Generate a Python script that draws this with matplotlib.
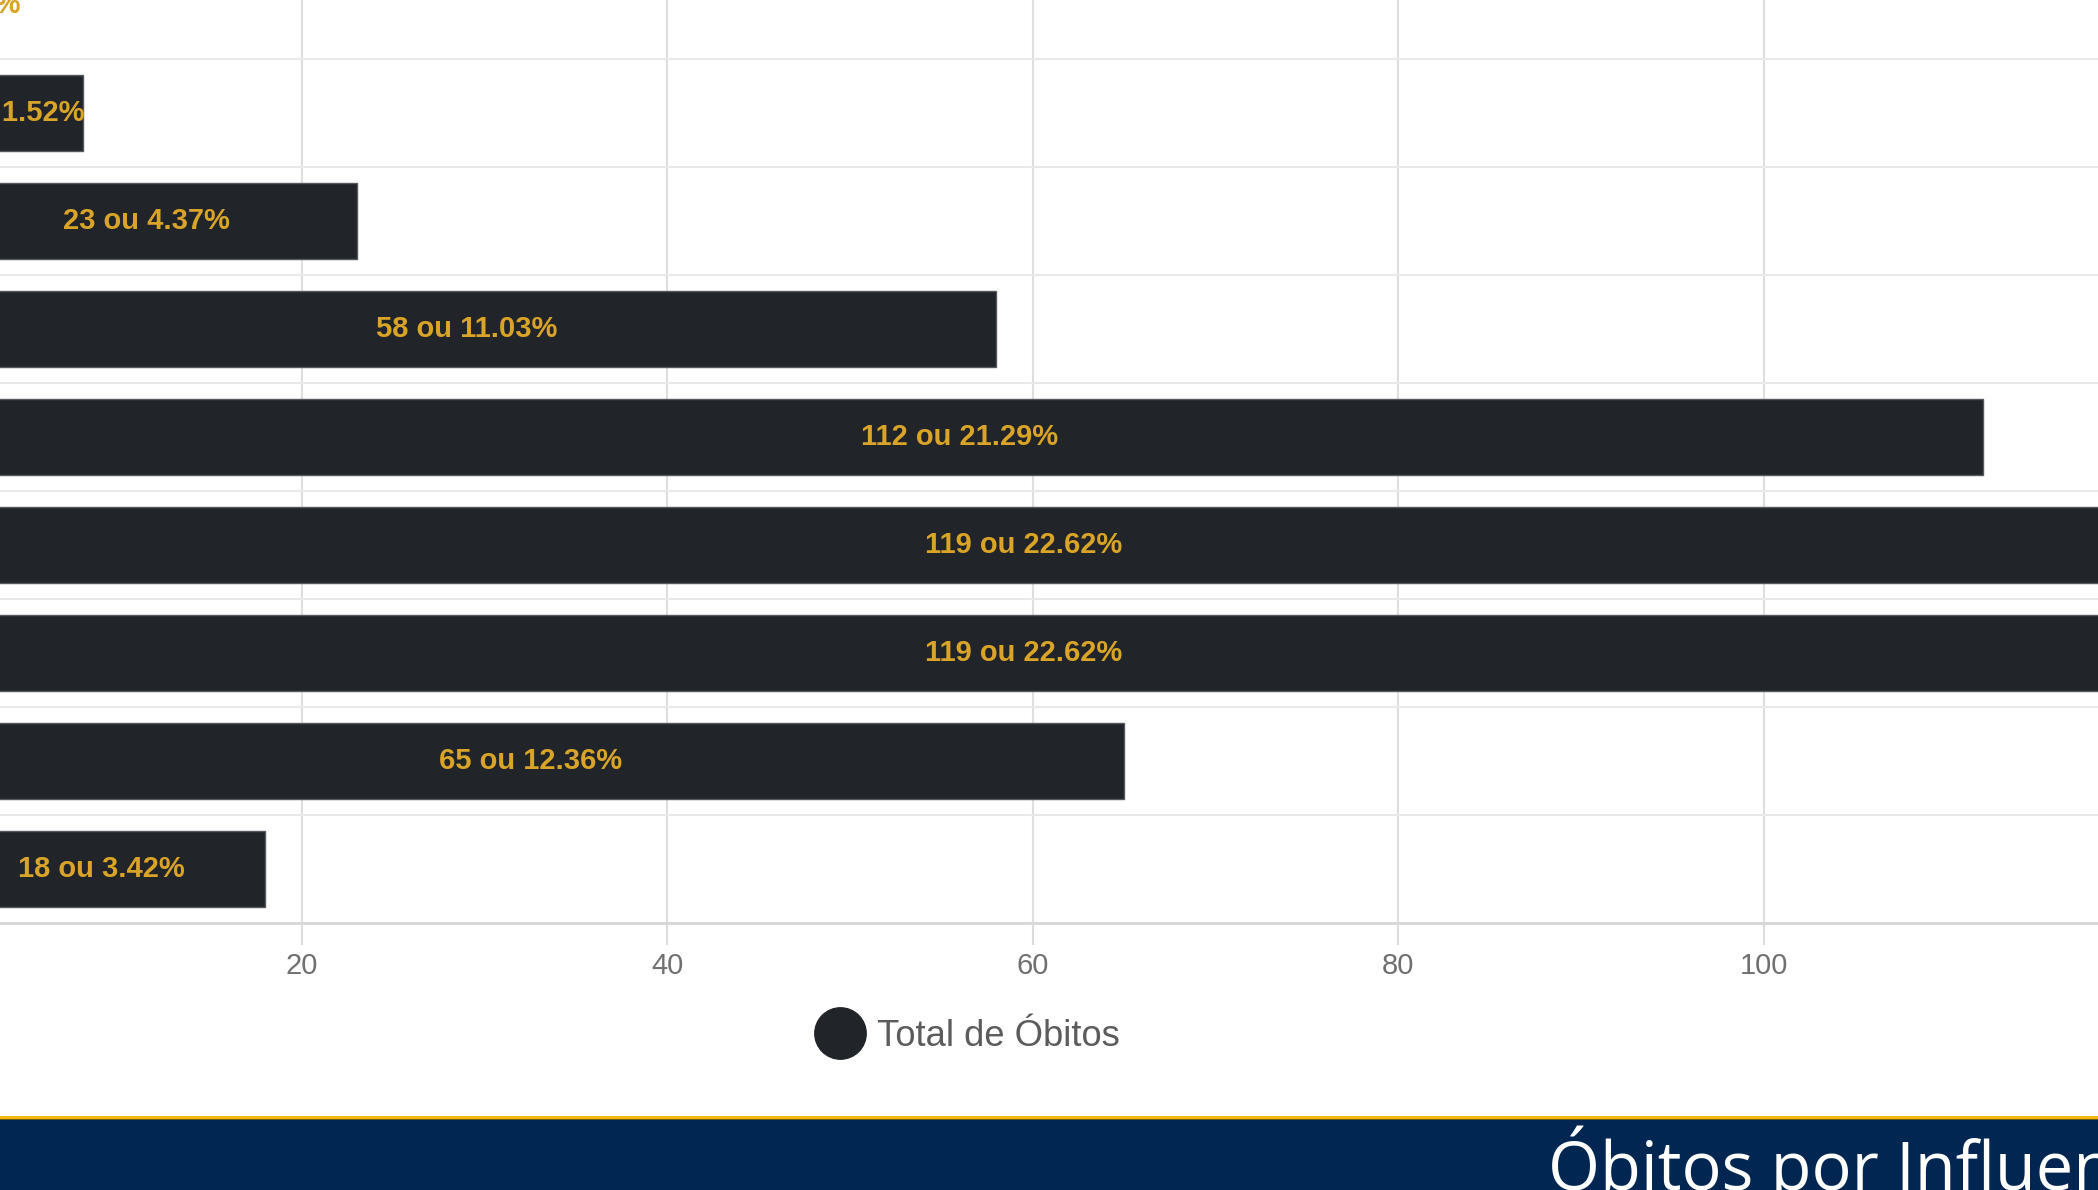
import matplotlib.pyplot as plt
from matplotlib.lines import Line2D
from matplotlib.patches import Rectangle
import numpy as np

# valores (de cima para baixo)
totais = [1, 8, 23, 58, 112, 119, 119, 65, 18]
percentuais = [0.19, 1.52, 4.37, 11.03, 21.29, 22.62, 22.62, 12.36, 3.42]
ticks_x = [0, 20, 40, 60, 80, 100, 120]
serie = 'Total de Óbitos'
titulo = 'Óbitos por Influenza'

cor_barra = '#212428'
cor_rotulo = '#d9a427'
azul = '#022652'
dourado = '#f3b80c'

W, H = 2098, 1190
fig = plt.figure(figsize=(W / 100, H / 100), dpi=100)

# escala: 18.27 px por unidade, zero fica fora da imagem (recorte)
px = 18.27
x0 = -63.4
ax = fig.add_axes([x0 / W, (H - 923) / H, 125 * px / W, 972 / H])

pos = np.arange(len(totais))
ax.barh(pos, totais, height=0.70, color=cor_barra, edgecolor='#55585d',
        linewidth=1.0, zorder=3)

for i, (v, p) in enumerate(zip(totais, percentuais)):
    ax.text(v / 2, i, f'{v} ou {p:.2f}%', ha='center', va='center',
            color=cor_rotulo, fontsize=21, fontweight='bold',
            family='Liberation Sans', zorder=4)

ax.set_xlim(0, 125)
ax.set_ylim(len(totais) - 0.5, -0.5)
ax.set_xticks(ticks_x)
ax.set_xticklabels([str(t) for t in ticks_x], family='Liberation Sans')
ax.set_yticks([])
ax.set_yticks(np.arange(len(totais) + 1) - 0.5, minor=True)
ax.tick_params(axis='y', which='both', length=0, labelleft=False)
ax.tick_params(axis='x', length=16, width=1.5, color='#dcdcdc', pad=5,
               labelsize=21, labelcolor='#707070')
ax.grid(axis='x', color='#dedede', lw=1.5, zorder=0)
ax.grid(axis='y', which='minor', color='#e9e9e9', lw=1.5, zorder=0)
for s in ['top', 'right', 'left']:
    ax.spines[s].set_visible(False)
ax.spines['bottom'].set_color('#d6d6d6')
ax.spines['bottom'].set_linewidth(2)
ax.set_axisbelow(True)

# legenda
fs = 26.2
handle = Line2D([], [], marker='o', ls='none', color=cor_barra, markersize=37)
fig.legend([handle], [serie], loc='center left',
           bbox_to_anchor=(822 / W, 1 - 1036 / H), frameon=False,
           borderpad=0, borderaxespad=0, handlelength=1.0,
           handletextpad=0.52, prop={'family': 'Liberation Sans', 'size': fs},
           labelcolor='#5c5c5c')

# faixa do titulo
fig.add_artist(Rectangle((0, 0), 1, (H - 1119) / H, transform=fig.transFigure,
                         color=azul, lw=0, zorder=5))
fig.add_artist(Rectangle((0, (H - 1119) / H), 1, 3 / H, transform=fig.transFigure,
                         color=dourado, lw=0, zorder=5))
fig.add_artist(Rectangle((0, (H - 1120) / H), 1, 1.5 / H, transform=fig.transFigure,
                         color='#6b5a1e', lw=0, zorder=5))
fig.text(1548 / W, 0 / H, titulo, color='white', fontsize=48,
         family='Open Sans', ha='left', va='baseline', zorder=6)

fig.savefig('out.png', dpi=100)
